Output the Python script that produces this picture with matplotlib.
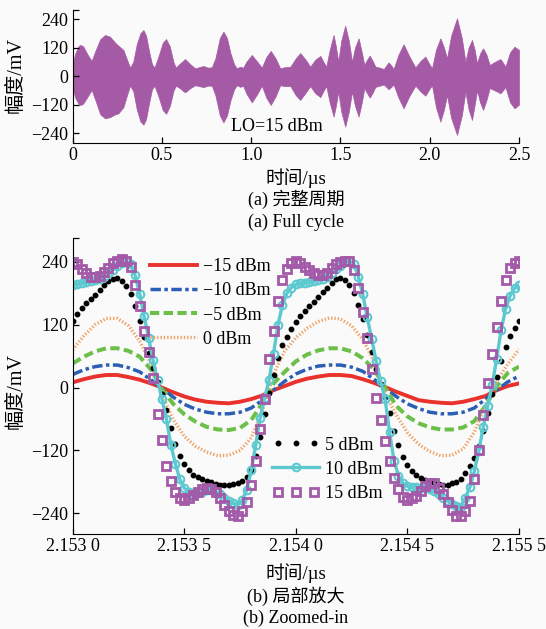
import matplotlib
matplotlib.use('Agg')
import matplotlib.pyplot as plt
import numpy as np
from matplotlib.legend_handler import HandlerLine2D

plt.rcParams['font.family'] = ['Liberation Serif', 'Noto Sans CJK SC']
plt.rcParams['font.size'] = 13
plt.rcParams['axes.unicode_minus'] = True

# (a) full cycle: envelope of the LO=15 dBm waveform (us, mV)
env_t = [0.000, 0.015, 0.035, 0.046, 0.060, 0.085, 0.107, 0.130, 0.155, 0.182,
         0.210, 0.240, 0.257, 0.285, 0.305, 0.322, 0.340, 0.360, 0.380, 0.397,
         0.412, 0.430, 0.445, 0.459, 0.480, 0.505, 0.524, 0.545, 0.565, 0.578,
         0.600, 0.630, 0.660, 0.687, 0.710, 0.733, 0.757, 0.780, 0.800, 0.825,
         0.845, 0.865, 0.885, 0.905, 0.920, 0.940, 0.955, 0.975, 1.004, 1.030,
         1.060, 1.085, 1.110, 1.137, 1.163, 1.190, 1.220, 1.250, 1.275, 1.305,
         1.331, 1.360, 1.388, 1.405, 1.421, 1.440, 1.462, 1.476, 1.488, 1.505,
         1.527, 1.547, 1.565, 1.582, 1.602, 1.620, 1.634, 1.650, 1.664, 1.680,
         1.696, 1.720, 1.743, 1.757, 1.770, 1.785, 1.798, 1.825, 1.854, 1.885,
         1.920, 1.950, 1.976, 1.995, 2.013, 2.035, 2.060, 2.080, 2.097, 2.120,
         2.153, 2.180, 2.200, 2.218, 2.237, 2.252, 2.265, 2.282, 2.299, 2.318,
         2.336, 2.365, 2.396, 2.412, 2.424, 2.450, 2.475, 2.500]
env_up = [50, 95, 128, 131, 125, 90, 64, 110, 155, 173,
          166, 140, 128, 110, 70, 36, 60, 135, 180, 194,
          170, 100, 50, 36, 80, 140, 156, 125, 60, 36,
          52, 72, 50, 33, 38, 43, 36, 37, 75, 160,
          187, 160, 95, 50, 33, 40, 35, 62, 89, 65,
          36, 80, 106, 75, 33, 38, 40, 75, 97, 70,
          40, 70, 85, 60, 40, 110, 173, 120, 61, 150,
          212, 150, 61, 120, 159, 100, 47, 70, 86, 65,
          40, 36, 30, 45, 58, 45, 30, 90, 134, 85,
          37, 65, 82, 55, 33, 110, 159, 120, 75, 170,
          243, 160, 61, 120, 152, 110, 54, 95, 117, 90,
          47, 60, 72, 55, 40, 100, 124, 110]
env_lo = [-50, -90, -118, -121, -115, -85, -58, -105, -160, -177,
          -172, -160, -156, -130, -80, -40, -62, -140, -190, -204,
          -180, -108, -55, -40, -82, -142, -158, -125, -62, -40,
          -50, -68, -50, -38, -42, -46, -40, -40, -80, -165,
          -194, -165, -100, -55, -38, -45, -40, -75, -110, -80,
          -40, -90, -121, -85, -38, -42, -42, -80, -100, -70,
          -42, -72, -88, -62, -42, -110, -170, -120, -65, -150,
          -212, -150, -65, -125, -170, -110, -50, -72, -90, -70,
          -45, -40, -35, -45, -55, -45, -35, -90, -135, -85,
          -40, -65, -82, -58, -38, -130, -191, -140, -80, -175,
          -247, -165, -65, -140, -184, -120, -60, -110, -142, -100,
          -50, -60, -72, -58, -45, -110, -135, -120]

# (b) zoomed-in: time in ns after 2.153 0 us
t_line = np.linspace(0, 2.0, 41)
t_mark = np.linspace(0, 2.0, 101)

lo_m15 = [10, 16, 21, 24, 24, 20, 15, 8, 0, -9, -17, -23, -27, -29, -30, -27, -22, -15, -5, 3,
          11, 17, 21, 24, 24, 22, 16, 9, 1, -8, -16, -24, -27, -29, -30, -27, -22, -16, -5, 3,
          8]
lo_m10 = [25, 34, 40, 43, 43, 38, 30, 15, -1, -18, -32, -41, -47, -50, -50, -47, -39, -24, -5, 12,
          26, 35, 41, 43, 43, 39, 31, 16, -1, -17, -31, -40, -47, -50, -50, -47, -39, -22, -5, 11,
          22]
lo_m5 = [46, 59, 69, 75, 75, 70, 59, 35, -3, -31, -51, -65, -75, -80, -81, -77, -62, -30, 8, 30,
         50, 63, 71, 75, 75, 69, 56, 35, 0, -35, -55, -68, -76, -80, -80, -76, -64, -35, 2, 28,
         40]
lo_0 = [72, 99, 120, 132, 132, 118, 89, 46, -13, -61, -93, -112, -123, -130, -129, -120, -96, -45, 26, 70,
        95, 113, 126, 133, 131, 118, 92, 50, -12, -52, -86, -108, -122, -130, -129, -117, -85, -35, 12, 45,
        73]

lo_5 = [128, 140, 152, 161, 169, 177, 186, 195, 203, 207,
        209, 204, 193, 178, 156, 127, 97, 66, 38, 11,
        -12, -42, -78, -108, -130, -146, -158, -166, -171, -175,
        -178, -181, -184, -185, -186, -185, -184, -182, -178, -170,
        -158, -130, -95, -51, -10, 24, 57, 82, 97, 112,
        125, 136, 146, 155, 164, 173, 182, 191, 200, 207,
        210, 206, 196, 181, 158, 130, 100, 68, 36, 6,
        -18, -48, -82, -110, -132, -148, -159, -167, -172, -176,
        -179, -182, -184, -186, -185, -183, -180, -175, -164, -150,
        -135, -112, -82, -48, -12, 20, 50, 78, 98, 113,
        128]
lo_10 = [196, 198, 199, 201, 203, 205, 207, 212, 218, 225,
         232, 238, 241, 236, 214, 179, 136, 95, 52, 14,
         -22, -60, -110, -145, -175, -192, -199, -202, -202, -199,
         -196, -196, -200, -204, -210, -216, -221, -224, -215, -195,
         -158, -110, -58, -20, 15, 65, 120, 158, 180, 191,
         197, 199, 200, 202, 204, 206, 208, 212, 218, 226,
         233, 239, 242, 236, 212, 178, 134, 93, 50, 12,
         -22, -85, -140, -168, -183, -188, -190, -190, -191, -191,
         -194, -198, -204, -210, -216, -222, -226, -227, -210, -190,
         -160, -121, -75, -35, 5, 55, 110, 150, 175, 190,
         196]
lo_15 = [240, 236, 227, 218, 212, 211, 213, 220, 229, 237,
         241, 245, 242, 230, 195, 155, 108, 68, 18, -50,
         -100, -150, -179, -199, -210, -214, -210, -205, -199, -193,
         -191, -194, -200, -210, -224, -236, -244, -246, -236, -218,
         -185, -140, -80, -22, 55, 108, 165, 205, 226, 237,
         242, 237, 230, 224, 218, 215, 215, 219, 228, 236,
         240, 242, 241, 224, 190, 145, 95, 35, -20, -62,
         -102, -140, -172, -193, -209, -214, -211, -206, -198, -188,
         -183, -183, -191, -204, -218, -233, -245, -246, -236, -217,
         -175, -120, -52, 8, 65, 115, 165, 205, 228, 238,
         242]

x_ticks_b = [2.1530, 2.1535, 2.1540, 2.1545, 2.1550]
x_labels_b = ['2.153 0', '2.153 5', '2.154 0', '2.154 5', '2.155 5']
y_ticks = [-240, -120, 0, 120, 240]
y_labels = ['\u2212240', '\u2212120', '0', '120', '240']

x_line = 2.1530 + t_line / 1000
x_mark = 2.1530 + t_mark / 1000

fig = plt.figure(figsize=(5.46, 6.29), dpi=100, facecolor='#fafafa')


def style_axes(ax, ytop):
    ax.set_facecolor('#fafafa')
    for s in ['top', 'right']:
        ax.spines[s].set_visible(False)
    ax.set_yticks(y_ticks + [ytop])
    ax.set_yticklabels(y_labels + [''])
    ax.tick_params(direction='in', length=4, width=0.9, pad=3, labelsize=13)


# top panel
ax1 = fig.add_axes([0.1328, 0.7722, 0.8177, 0.2119])
ax1.fill_between(env_t, env_lo, env_up, color='#a55aa5', edgecolor='#a55aa5', lw=0.5)
ax1.set_xlim(0, 2.5)
ax1.set_ylim(-282, 278)
style_axes(ax1, 278)
ax1.set_xticks([0, 0.5, 1.0, 1.5, 2.0, 2.5])
ax1.set_xticklabels(['0', '0.5', '1.0', '1.5', '2.0', '2.5'])
ax1.text(0.89, -212, 'LO=15 dBm', ha='left', va='center', fontsize=13)

# bottom panel
ax2 = fig.add_axes([0.1332, 0.1506, 0.8173, 0.4706])
l1, = ax2.plot(x_line, lo_m15, color='#e8322b', lw=2.8, label='\u221215 dBm')
l2, = ax2.plot(x_line, lo_m10, color='#2b5fb4', lw=2.5, ls=(0, (3, 1, 1, 1)), label='\u221210 dBm')
l3, = ax2.plot(x_line, lo_m5, color='#6cc04a', lw=2.9, ls=(0, (2.3, 1.1)), label='\u22125 dBm')
l4, = ax2.plot(x_line, lo_0, color='#f0a060', lw=2.4, ls=(0, (0.4, 0.6)), label='0 dBm')
l5, = ax2.plot(x_mark, lo_5, ls='none', marker='o', ms=3.2, color='k', label='5 dBm')
l6, = ax2.plot(x_mark, lo_10, color='#5cc8d0', lw=2.4, marker='o', ms=5.5, mfc='none',
               mew=1.5, label='10 dBm')
l7, = ax2.plot(x_mark, lo_15, ls='none', marker='s', ms=5.5, mfc='none', mec='#a35aa8',
               mew=2.0, label='15 dBm')
ax2.set_xlim(2.1530, 2.1550)
ax2.set_ylim(-280, 285)
style_axes(ax2, 285)
ax2.set_xticks(x_ticks_b)
ax2.set_xticklabels(x_labels_b)

leg1 = ax2.legend(handles=[l1, l2, l3, l4], loc='upper left', bbox_to_anchor=(0.173, 0.933),
                  frameon=False, handlelength=2.6, handletextpad=0.35, labelspacing=0.4,
                  borderaxespad=0, borderpad=0, fontsize=13)
ax2.add_artist(leg1)
ax2.legend(handles=[l5, l6, l7], loc='upper left', bbox_to_anchor=(0.447, 0.33),
           frameon=False, handlelength=2.6, handletextpad=0.3, labelspacing=0.4,
           borderaxespad=0, borderpad=0, numpoints=3, fontsize=13,
           handler_map={l6: HandlerLine2D(numpoints=1)})

# labels and captions
fig.text(0.029, 0.881, '幅度/mV', rotation=90, ha='center', va='center', fontsize=14.5)
fig.text(0.542, 0.717, '时间/µs', ha='center', va='center', fontsize=13.5)
fig.text(0.542, 0.6836, '(a) 完整周期', ha='center', va='center', fontsize=13)
fig.text(0.542, 0.647, '(a) Full cycle', ha='center', va='center', fontsize=13)
fig.text(0.029, 0.379, '幅度/mV', rotation=90, ha='center', va='center', fontsize=14.5)
fig.text(0.542, 0.089, '时间/µs', ha='center', va='center', fontsize=13.5)
fig.text(0.542, 0.0525, '(b) 局部放大', ha='center', va='center', fontsize=13)
fig.text(0.542, 0.0175, '(b) Zoomed-in', ha='center', va='center', fontsize=13)

fig.savefig('out.png', dpi=100, facecolor=fig.get_facecolor())
